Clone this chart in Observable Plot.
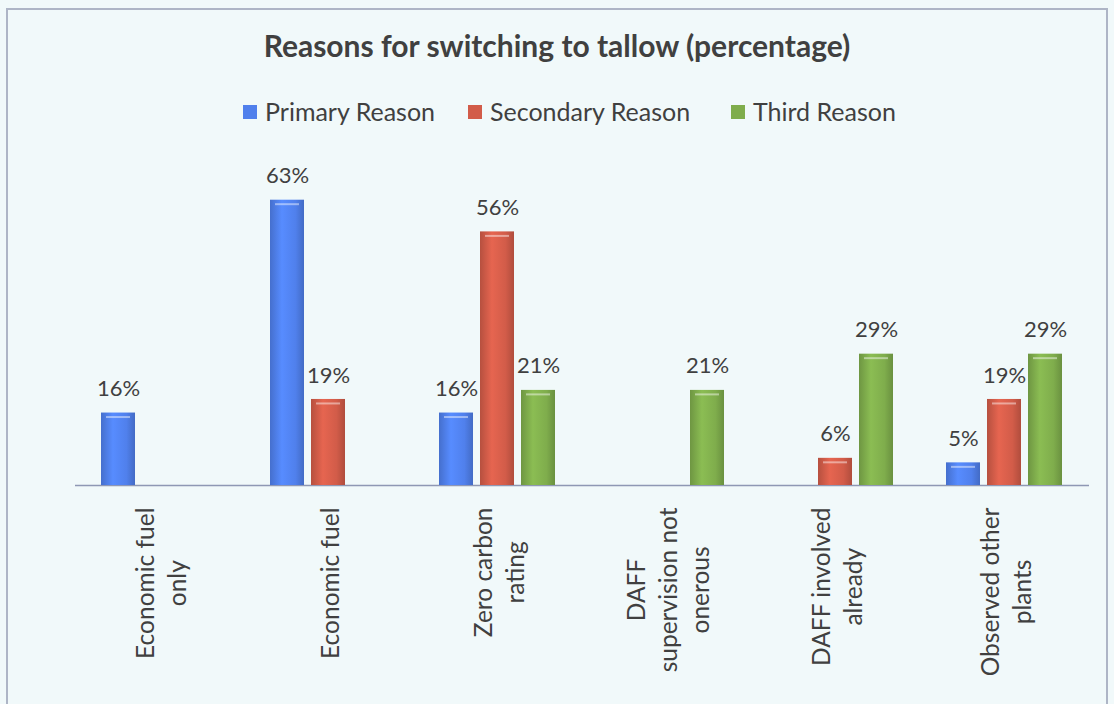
<!DOCTYPE html>
<html>
<head>
<meta charset="utf-8">
<script src="https://cdn.jsdelivr.net/npm/d3@7"></script>
<script src="https://cdn.jsdelivr.net/npm/@observablehq/plot@0.6"></script>
<style>
  html, body { margin: 0; padding: 0; }
  body {
    width: 1114px; height: 704px; overflow: hidden; position: relative;
    background: #f1f9fa; font-family: Lato, "Open Sans", sans-serif; color: #404040;
  }
  #frame {
    position: absolute; left: 6px; top: 8px; width: 1102px; height: 720px;
    border: 2px solid #aeb5c6; box-sizing: border-box;
  }
  #title {
    position: absolute; left: 0; width: 1114px; top: 27px; text-align: center;
    font-weight: 700; font-size: 30px; line-height: 36px; color: #404040;
  }
  .key { position: absolute; top: 96px; font-size: 25px; line-height: 30px; color: #404040; white-space: nowrap; }
  .key span.sw { display: inline-block; width: 14px; height: 14px; margin-right: 8px; vertical-align: 2px; }
  #chart { position: absolute; left: 0; top: 140px; }
</style>
</head>
<body>
<div id="frame"></div>
<div id="title">Reasons for switching to tallow (percentage)</div>
<div id="legend"></div>
<div id="chart"></div>
<script>
// Categories (line breaks mark where the axis labels wrap)
const categories = [
  "Economic fuel\nonly",
  "Economic fuel",
  "Zero carbon\nrating",
  "DAFF\nsupervision not\nonerous",
  "DAFF involved\nalready",
  "Observed other\nplants"
];
const seriesNames = ["Primary Reason", "Secondary Reason", "Third Reason"];

// Percentages per category; null where a reason got no answers
const primary   = [16, 63, 16, null, null, 5];
const secondary = [null, 19, 56, null, 6, 19];
const third     = [null, null, 21, 21, 29, 29];

const seriesColors = ["#5080ec", "#d25c49", "#7fad4c"];
const legendLeft = [243, 468, 731];

// Long table for Plot
const seriesValues = [primary, secondary, third];
const rows = [];
seriesNames.forEach((s, si) => {
  categories.forEach((c, ci) => {
    const v = seriesValues[si][ci];
    if (v != null) rows.push({category: c, series: s, value: v});
  });
});

// Legend
const legend = document.getElementById("legend");
seriesNames.forEach((s, i) => {
  const el = document.createElement("div");
  el.className = "key";
  el.style.left = legendLeft[i] + "px";
  el.innerHTML = `<span class="sw" style="background:${seriesColors[i]}"></span>${s}`;
  legend.appendChild(el);
});

const gradIds = seriesNames.map((_, i) => `barGrad${i}`);

const chart = Plot.plot({
  width: 1114,
  height: 564,
  marginLeft: 73,
  marginRight: 24,
  marginTop: 28,
  marginBottom: 219,
  style: {background: "transparent", fontFamily: "Lato, 'Open Sans', sans-serif", color: "#404040"},
  fx: {domain: categories, paddingInner: 0, paddingOuter: 0, axis: null},
  x: {domain: seriesNames, paddingInner: 0.167, paddingOuter: 0.6, axis: null},
  y: {domain: [0, 70], axis: null},
  color: {domain: seriesNames, range: gradIds.map(id => `url(#${id})`)},
  marks: [
    Plot.ruleY([0], {stroke: "#8f98b4", strokeWidth: 1.5}),
    Plot.barY(rows, {fx: "category", x: "series", y: "value", fill: "series"}),
    // soft bevel highlight just under each bar top
    Plot.tickY(rows, {
      fx: "category", x: "series", y: "value",
      dy: 4, inset: 5, stroke: "#ffffff", strokeOpacity: 0.45, strokeWidth: 2
    }),
    Plot.text(rows, {
      fx: "category", x: "series", y: "value",
      text: d => d.value + "%",
      dy: -24, fontSize: 22, fill: "#404040"
    }),
    Plot.text(categories, {
      fx: d => d, y: 0, text: d => d,
      rotate: -90, textAnchor: "end", lineAnchor: "middle",
      lineHeight: 1.3, dy: 22, fontSize: 24.5, fill: "#404040"
    })
  ]
});

// Horizontal shading gives the bars their rounded look
const defs = d3.select(chart).insert("defs", ":first-child");
seriesColors.forEach((col, i) => {
  const base = d3.color(col);
  const g = defs.append("linearGradient").attr("id", gradIds[i])
    .attr("x1", 0).attr("x2", 1).attr("y1", 0).attr("y2", 0);
  g.append("stop").attr("offset", "0%").attr("stop-color", base.darker(0.4));
  g.append("stop").attr("offset", "35%").attr("stop-color", base.brighter(0.25));
  g.append("stop").attr("offset", "75%").attr("stop-color", base);
  g.append("stop").attr("offset", "100%").attr("stop-color", base.darker(0.5));
});

document.getElementById("chart").appendChild(chart);

// Wrapped category labels: centre each line on the longest one,
// keeping the top of the longest line just under the baseline
d3.select(chart).selectAll("text").each(function() {
  const t = d3.select(this);
  const tr = t.attr("transform") || "";
  if (!tr.includes("rotate(-90)")) return;
  const spans = this.querySelectorAll("tspan");
  const parts = spans.length ? Array.from(spans) : [this];
  const maxLen = d3.max(parts, p => p.getComputedTextLength());
  t.attr("text-anchor", "middle");
  parts.forEach(p => p.setAttribute("text-anchor", "middle"));
  t.attr("transform", `${tr} translate(${-maxLen / 2},0)`);
});
</script>
</body>
</html>
